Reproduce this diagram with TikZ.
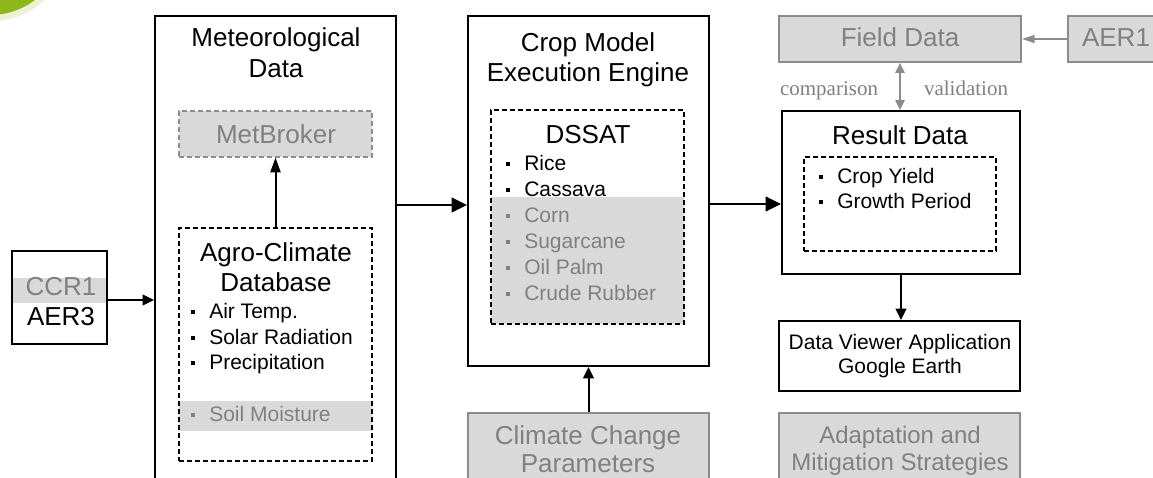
\documentclass[tikz,border=0pt]{standalone}
\usepackage{fontspec}
\setmainfont{Liberation Sans}
\newfontfamily\seriffont{Liberation Serif}
\usetikzlibrary{arrows.meta,fit}
\definecolor{gfill}{HTML}{D9D9D9}
\definecolor{gtext}{HTML}{808080}
\definecolor{gline}{HTML}{8C8C8C}
\definecolor{leaf}{HTML}{8DB71B}
\newcommand{\sqb}{\raisebox{3pt}{\rule{3pt}{3pt}}\hspace{10.5pt}}
\begin{document}
\begin{tikzpicture}[x=0.75pt,y=-0.75pt,
  blackbox/.style={draw=black,line width=1.5pt,inner sep=0pt},
  graybox/.style={draw=gline,fill=gfill,line width=1.4pt,inner sep=0pt},
  dashbox/.style={draw=black,line width=0.9pt,dash pattern=on 3.5pt off 2.5pt,inner sep=0pt},
  graydash/.style={draw=gline,fill=gfill,line width=0.9pt,dash pattern=on 3.5pt off 2.5pt,inner sep=0pt},
  txt/.style={inner sep=0pt,anchor=base},
  ltxt/.style={inner sep=0pt,anchor=base west},
  Tbig/.style={font=\fontsize{19.5pt}{23pt}\selectfont},
  Tmid/.style={font=\fontsize{18pt}{22pt}\selectfont},
  Tsm/.style={font=\fontsize{15.75pt}{19pt}\selectfont},
  Tser/.style={font=\seriffont\fontsize{15.75pt}{19pt}\selectfont},
  arr/.style={line width=1.5pt,-{Triangle[length=8.5pt,width=8pt]}},
  bigarr/.style={line width=1.5pt,-{Triangle[length=11.5pt,width=11pt]}},
  upl/.style={line width=1.5pt,-{Triangle[length=11pt,width=7.5pt]}},
  garr/.style={draw=gline,line width=1.1pt,-{Triangle[length=9.5pt,width=6pt]}},
  gdarr/.style={draw=gline,line width=1.1pt,{Triangle[length=7.5pt,width=7pt]}-{Triangle[length=7.5pt,width=7pt]}}
]
\useasboundingbox (0,0) rectangle (1153,478);
\clip (0,0) rectangle (1153,478);

% logo fragment
\fill[leaf!18] (-10,-60) circle (61pt);
\fill[leaf] (-10,-60) circle (56.25pt);

% gray bands
\fill[gfill] (12,278) rectangle (107,303);
\fill[gfill] (179,401) rectangle (372,431);
\fill[gfill] (491,197) rectangle (684,324);

% boxes
\node[blackbox,fit={(12,251) (107,344)}] (ccr) {};
\node[blackbox,fit={(155,16) (396,530)}] (met) {};
\node[graydash,fit={(179,111) (372,157)}] (metb) {};
\node[dashbox,fit={(179,228) (372,461)}] (agro) {};
\node[blackbox,fit={(468,16) (709,366)}] (crop) {};
\node[dashbox,fit={(491,110) (684,324)}] (dssat) {};
\node[graybox,fit={(468,413) (709,530)}] (ccp) {};
\node[graybox,fit={(779,16) (1021,62)}] (field) {};
\node[graybox,fit={(1068,16) (1164,62)}] (aer) {};
\node[blackbox,fit={(782,111) (1020,274)}] (res) {};
\node[dashbox,fit={(804,157) (996,251)}] (resin) {};
\node[blackbox,fit={(779,321) (1020,391)}] (dv) {};
\node[graybox,fit={(779,413) (1020,530)}] (adapt) {};

% texts
\node[txt,Tbig,text=gtext] (t1) at (61,295) {CCR1};
\node[txt,Tbig] (t2) at (61,325) {AER3};

\node[txt,Tbig] (t3) at (276,47) {Meteorological};
\node[txt,Tbig] (t4) at (276,78) {Data};
\node[txt,Tbig,text=gtext] (t5) at (276,143) {MetBroker};
\node[txt,Tbig] (t6) at (276,261) {Agro-Climate};
\node[txt,Tbig] (t7) at (276,291) {Database};
\node[ltxt,Tsm] (t8) at (191,318) {\sqb Air Temp.};
\node[ltxt,Tsm] (t9) at (191,344) {\sqb Solar Radiation};
\node[ltxt,Tsm] (t10) at (191,369) {\sqb Precipitation};
\node[ltxt,Tsm,text=gtext] (t11) at (191,421) {\sqb Soil Moisture};

\node[txt,Tbig] (t12) at (588,52) {Crop Model};
\node[txt,Tbig] (t13) at (588,82) {Execution Engine};
\node[txt,Tbig] (t14) at (588,143) {DSSAT};
\node[ltxt,Tsm] (t15) at (506,170) {\sqb Rice};
\node[ltxt,Tsm] (t16) at (506,196) {\sqb Cassava};
\node[ltxt,Tsm,text=gtext] (t17) at (506,222) {\sqb Corn};
\node[ltxt,Tsm,text=gtext] (t18) at (506,248) {\sqb Sugarcane};
\node[ltxt,Tsm,text=gtext] (t19) at (506,274) {\sqb Oil Palm};
\node[ltxt,Tsm,text=gtext] (t20) at (506,300) {\sqb Crude Rubber};
\node[txt,Tbig,text=gtext] (t21) at (588,444) {Climate Change};
\node[txt,Tbig,text=gtext] (t22) at (588,472) {Parameters};

\node[txt,Tbig,text=gtext] (t23) at (900,47) {Field Data};
\node[txt,Tbig,text=gtext] (t24) at (1116,47) {AER1};
\node[txt,Tser,text=gtext] (t25) at (829,95) {comparison};
\node[txt,Tser,text=gtext] (t26) at (966,95) {validation};
\node[txt,Tbig] (t27) at (900,144) {Result Data};
\node[ltxt,Tsm] (t28) at (819,183) {\sqb Crop Yield};
\node[ltxt,Tsm] (t29) at (819,208) {\sqb Growth Period};
\node[txt,Tsm] (t30) at (900,349) {Data Viewer Application};
\node[txt,Tsm] (t31) at (900,373) {Google Earth};
\node[txt,Tmid,text=gtext] (t32) at (900,443) {Adaptation and};
\node[txt,Tmid,text=gtext] (t33) at (900,470) {Mitigation Strategies};

% connectors
\coordinate (y1) at (0,300);
\coordinate (y2) at (0,205);
\coordinate (y3) at (0,204);
\draw[arr] (y1 -| ccr.east) -- (y1 -| met.west);
\draw[upl] (agro.north) -- (metb.south);
\draw[bigarr] (y2 -| met.east) -- (y2 -| crop.west);
\draw[arr] (ccp.north) -- (crop.south);
\draw[bigarr] (y3 -| crop.east) -- (y3 -| res.west);
\draw[gdarr] (field.south) -- (field.south |- res.north);
\draw[arr] (res.south) -- (res.south |- dv.north);
\draw[garr] (aer.west) -- (field.east);
\end{tikzpicture}
\end{document}
